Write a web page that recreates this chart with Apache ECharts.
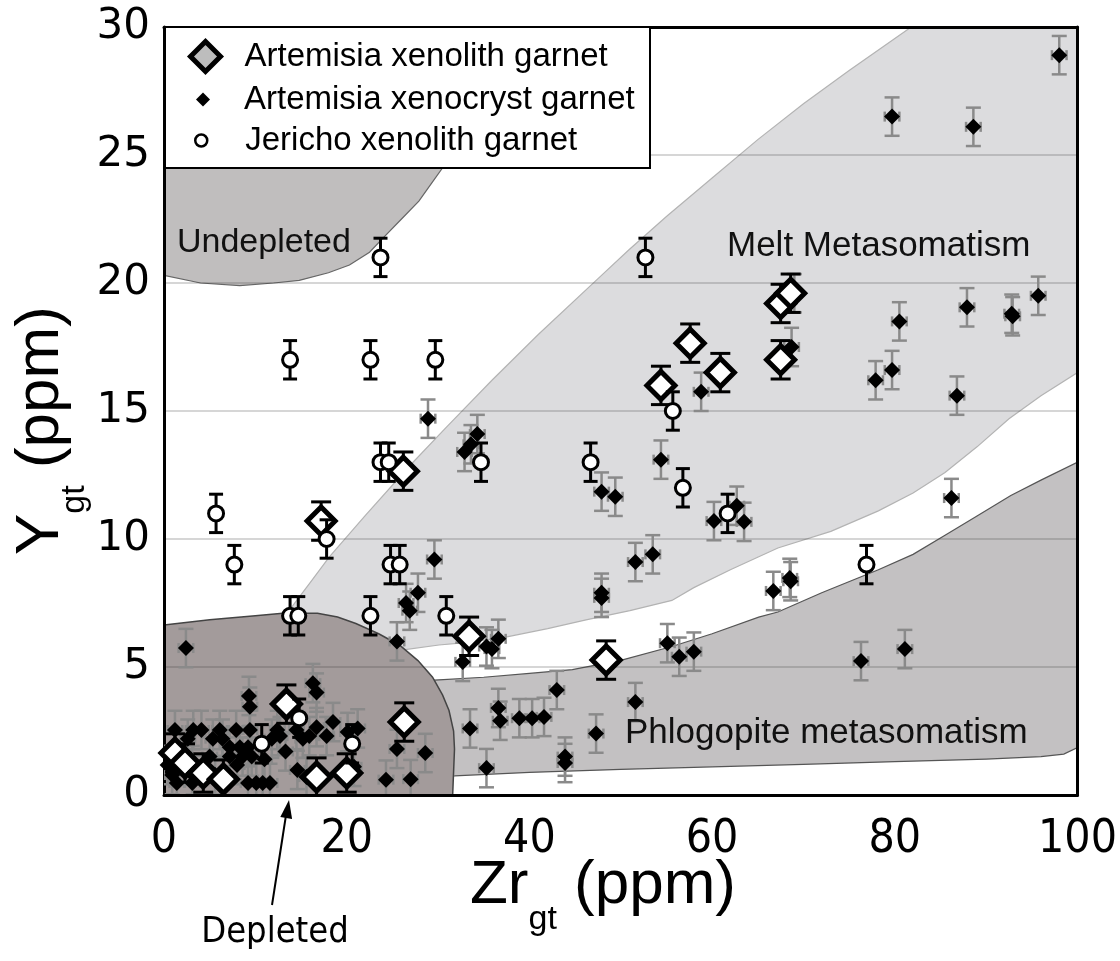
<!DOCTYPE html>
<html>
<head>
<meta charset="utf-8">
<script src="https://cdn.jsdelivr.net/npm/echarts@6/dist/echarts.min.js"></script>
<style>
  html, body { margin: 0; padding: 0; background: #fff; }
  #chart { width: 1120px; height: 961px; }
</style>
</head>
<body>
<div id="chart"></div>
<script>
// Garnet Zr vs Y (ppm) with metasomatic fields

const xTicks = [0, 20, 40, 60, 80, 100];
const yTicks = [0, 5, 10, 15, 20, 25, 30];

// Artemisia xenolith garnet: [Zr, Y]
const xenolith = [
  [1.2, 1.64], [2.3, 1.25], [4.3, 0.86], [6.5, 0.62], [13.4, 3.55], [16.7, 0.7],
  [20.0, 0.86], [26.3, 2.85], [17.2, 10.7], [26.2, 12.65], [33.4, 6.2], [48.4, 5.27],
  [54.4, 16.0], [57.6, 17.65], [60.9, 16.5], [67.5, 19.2], [68.6, 19.6], [67.5, 17.0]
];
const xenolithYErr = 0.75;

// Artemisia xenocryst garnet: [Zr, Y]
const xenocryst = [
  [0.4, 1.17], [0.9, 0.78], [1.2, 2.54], [1.4, 0.47], [2.4, 5.74], [2.6, 2.2], [3.1, 1.17],
  [3.1, 0.47], [3.2, 2.54], [3.2, 0.78], [4.1, 2.54], [5.0, 1.5], [5.35, 2.2], [5.6, 0.78],
  [6.1, 2.54], [6.4, 2.2], [7.2, 1.87], [7.2, 1.5], [7.9, 2.54], [8.0, 1.17], [8.3, 1.87],
  [8.6, 1.5], [9.2, 1.87], [9.2, 0.47], [9.3, 3.87], [9.4, 3.45], [9.4, 2.54], [9.6, 1.5],
  [10.1, 0.47], [10.8, 0.47], [11.0, 1.4], [11.6, 0.47], [11.8, 2.2], [12.4, 2.54], [12.7, 2.3],
  [13.3, 1.7], [14.5, 2.54], [14.6, 0.98], [15.2, 2.2], [15.6, 0.7], [15.9, 2.3], [16.3, 4.37],
  [16.7, 4.0], [16.7, 2.65], [17.8, 2.3], [18.5, 2.85], [20.1, 2.46], [20.8, 1.1], [21.2, 2.6],
  [24.3, 0.6], [25.5, 1.8], [27.0, 0.62], [28.6, 1.64],
  [25.5, 6.0], [26.5, 7.5], [26.9, 7.2], [27.8, 7.9], [28.9, 14.7], [29.6, 9.2], [32.7, 5.2],
  [32.9, 13.4], [33.5, 2.6], [33.6, 13.7], [34.3, 14.1], [35.3, 5.8], [35.3, 1.05], [35.9, 5.7],
  [36.6, 6.1], [36.6, 3.4], [36.8, 2.9], [38.9, 3.0], [40.3, 3.0], [41.6, 3.05], [43.0, 4.1],
  [43.9, 1.5], [43.9, 1.25], [47.3, 2.4], [47.9, 7.9], [47.9, 7.7], [47.9, 11.85], [49.4, 11.65],
  [51.6, 9.1], [51.6, 3.63], [53.5, 9.4], [54.4, 13.1], [55.1, 5.93], [56.4, 5.4], [58.0, 5.6],
  [58.8, 15.75], [60.2, 10.7], [62.7, 11.3], [63.5, 10.67], [66.7, 7.97], [68.5, 8.48],
  [68.6, 8.35], [68.7, 17.5], [69.0, 19.6],
  [76.3, 5.23], [77.9, 16.2], [79.7, 16.6], [79.7, 26.5], [80.5, 18.5], [81.1, 5.7], [86.2, 11.6],
  [86.8, 15.6], [87.9, 19.05], [88.6, 26.1], [92.8, 18.8], [92.9, 18.7], [95.7, 19.5], [98.0, 28.9]
];
const xenocrystYErr = 0.75;
const xenocrystXErr = 0.8;

// Jericho xenolith garnet: [Zr, Y]
const jericho = [
  [5.7, 11], [7.7, 9], [13.8, 17], [13.8, 7], [14.7, 7], [10.7, 2], [14.8, 3], [20.6, 2],
  [17.8, 10], [22.6, 17], [23.7, 21], [23.7, 13], [24.6, 13], [24.8, 9], [25.8, 9], [22.6, 7],
  [29.7, 17], [30.9, 7], [34.7, 13], [46.7, 13], [52.7, 21], [55.7, 15], [56.8, 12], [61.7, 11],
  [76.9, 9]
];
const jerichoYErr = 0.75;

// Field outlines: [Zr, Y] vertices
const meltField = [
  [12, 6.6], [14.1, 7.4], [16, 8.3], [18.1, 9.3], [22, 10.9], [27, 12.9], [31, 14.4],
  [35.9, 16.2], [41, 18.0], [47.6, 20.2], [50.9, 21.3], [55, 22.6], [60, 24.1], [65, 25.6],
  [70, 27.0], [75, 28.3], [81.8, 30], [100, 30], [100, 16.5], [96, 15.6], [92.5, 14.7],
  [89, 13.6], [85.5, 12.6], [82, 11.8], [78.2, 11.1], [73, 10.3], [67.2, 9.65], [62, 8.8],
  [58, 8.1], [55.6, 7.6], [51, 7.2], [46.2, 6.84], [42, 6.5], [37.4, 6.17], [33, 5.95],
  [30.1, 5.86], [26, 5.66], [20, 5.6], [14, 5.9], [12, 6.2]
];
const phlogopiteField = [
  [25, 4.4], [30.1, 4.5], [35, 4.6], [40, 4.75], [44.7, 4.9], [50.1, 5.27], [55.6, 5.8],
  [60, 6.3], [65.1, 6.95], [67.2, 7.15], [72, 7.9], [78.2, 8.8], [82, 9.4], [85.5, 10.15],
  [89, 10.9], [92.7, 11.7], [96, 12.3], [100, 13.0], [100, 1.85], [98.5, 1.6], [96, 1.5],
  [90, 1.4], [80, 1.3], [70, 1.2], [60, 1.1], [50, 1.0], [40, 0.88], [31.8, 0.75], [25, 0.7]
];
const undepletedField = [
  [0, 20.3], [4, 20.0], [8.3, 19.9], [12, 20.0], [14.8, 20.1], [18, 20.4], [20.3, 20.7],
  [22.5, 21.2], [24.1, 21.8], [26, 22.5], [27.9, 23.2], [29.3, 23.9], [30.5, 24.5],
  [32, 25.7], [33.5, 27.2], [35, 29], [35.8, 30], [0, 30]
];
const depletedField = [
  [0, 6.64], [5, 6.85], [10, 7.0], [13, 7.1], [16.8, 7.1], [19, 6.95], [21, 6.7], [23.5, 6.3],
  [25.8, 5.85], [27.8, 5.25], [29.4, 4.6], [30.5, 3.9], [31.2, 3.3], [31.7, 2.5], [31.8, 1.8],
  [31.7, 0.9], [31.6, 0], [0, 0]
];

const SANS = "'Liberation Sans', Arial, sans-serif";
const NARROW = "'Liberation Sans Narrow', 'DejaVu Sans Condensed', sans-serif";
const TICKFONT = "'DejaVu Sans', sans-serif";

const chart = echarts.init(document.getElementById('chart'), null, { renderer: 'canvas' });

function fieldSeries(name, verts, fill, stroke, lineWidth, z) {
  return {
    type: 'custom', name, z, silent: true, clip: true, animation: false,
    data: [[0, 0]],
    renderItem(params, api) {
      return {
        type: 'polygon',
        shape: { points: verts.map(v => api.coord(v)) },
        style: { fill, stroke, lineWidth }
      };
    }
  };
}

function errorBarSeries(points, yErr, xErr, color, capHalf, lineWidth, z) {
  return {
    type: 'custom', z, silent: true, clip: true, animation: false,
    data: points.map(p => [p[0], p[1], yErr, xErr]),
    encode: { x: 0, y: 1 },
    renderItem(params, api) {
      const x = api.value(0), y = api.value(1), ey = api.value(2), ex = api.value(3);
      const c = api.coord([x, y]);
      const t = api.coord([x, y + ey]);
      const b = api.coord([x, y - ey]);
      const style = { stroke: color, lineWidth };
      const children = [
        { type: 'line', shape: { x1: c[0], y1: t[1], x2: c[0], y2: b[1] }, style },
        { type: 'line', shape: { x1: c[0] - capHalf, y1: t[1], x2: c[0] + capHalf, y2: t[1] }, style },
        { type: 'line', shape: { x1: c[0] - capHalf, y1: b[1], x2: c[0] + capHalf, y2: b[1] }, style }
      ];
      if (ex) {
        const l = api.coord([x - ex, y]), r = api.coord([x + ex, y]);
        children.push(
          { type: 'line', shape: { x1: l[0], y1: c[1], x2: r[0], y2: c[1] }, style },
          { type: 'line', shape: { x1: l[0], y1: c[1] - 5, x2: l[0], y2: c[1] + 5 }, style },
          { type: 'line', shape: { x1: r[0], y1: c[1] - 5, x2: r[0], y2: c[1] + 5 }, style }
        );
      }
      return { type: 'group', children };
    }
  };
}

// text width helper for composite axis titles
const measureCtx = document.createElement('canvas').getContext('2d');
function textWidth(str, size, family) {
  measureCtx.font = size + 'px ' + family;
  return measureCtx.measureText(str).width;
}

function titleParts(parts, family) {
  // parts: [text, size, baselineShift]
  let x = 0;
  return parts.map(([str, size, shift]) => {
    const el = {
      type: 'text', x, y: shift - 0.31 * size,
      style: { text: str, fontSize: size, fontFamily: family, fill: '#000',
               align: 'left', textAlign: 'left', verticalAlign: 'middle', textVerticalAlign: 'middle' }
    };
    x += textWidth(str, size, family);
    return el;
  });
}

const axisFrame = { show: true, lineStyle: { color: '#000', width: 3 } };
const legendText = { fontSize: 33, fontFamily: SANS, color: '#000' };

const option = {
  animation: false,
  backgroundColor: '#fff',
  grid: { left: 164, right: 40, top: 27, bottom: 166, containLabel: false },
  xAxis: [
    {
      type: 'value', min: 0, max: 100, interval: 20, z: 6,
      axisLine: { ...axisFrame, onZero: false }, axisTick: { show: false },
      splitLine: { show: false },
      axisLabel: { margin: 22, fontSize: 46, fontFamily: NARROW, color: '#000',
                   formatter: v => xTicks.includes(v) ? String(v) : '' }
    },
    {
      type: 'value', position: 'top', min: 0, max: 100, interval: 20, z: 6,
      axisLine: { ...axisFrame, onZero: false }, axisTick: { show: false },
      axisLabel: { show: false }, splitLine: { show: false }
    }
  ],
  yAxis: [
    {
      type: 'value', min: 0, max: 30, interval: 5, z: 3,
      axisLine: { ...axisFrame, onZero: false }, axisTick: { show: false },
      splitLine: { show: true, lineStyle: { color: 'rgba(60,60,60,0.28)', width: 1.5 } },
      axisLabel: { margin: 14, fontSize: 42, fontFamily: TICKFONT, color: '#000',
                   formatter: v => yTicks.includes(v) ? String(v) : '' }
    },
    {
      type: 'value', position: 'right', min: 0, max: 30, interval: 5, z: 6,
      axisLine: { ...axisFrame, onZero: false }, axisTick: { show: false },
      axisLabel: { show: false }, splitLine: { show: false }
    }
  ],
  legend: [
    {
      data: [{ name: 'Artemisia xenolith garnet', icon: 'diamond',
               itemStyle: { color: '#bdbdbd', borderColor: '#000', borderWidth: 5, opacity: 1 } }],
      left: 183, top: 34, itemWidth: 30, itemHeight: 30, z: 11, selectedMode: false,
      textStyle: { ...legendText, padding: [0, 0, 0, 19] }
    },
    {
      data: [{ name: 'Artemisia xenocryst garnet', icon: 'diamond',
               itemStyle: { color: '#000', opacity: 1 } }],
      left: 191, top: 78, itemWidth: 14, itemHeight: 14, z: 11, selectedMode: false,
      textStyle: { ...legendText, padding: [0, 0, 0, 29] }
    },
    {
      data: [{ name: 'Jericho xenolith garnet', icon: 'circle',
               itemStyle: { color: '#fff', borderColor: '#000', borderWidth: 2.5, opacity: 1 } }],
      left: 189, top: 119, itemWidth: 12, itemHeight: 12, z: 11, selectedMode: false,
      textStyle: { ...legendText, padding: [0, 0, 0, 33] }
    }
  ],
  graphic: [
    { type: 'rect', z: 10, shape: { x: 165, y: 27, width: 485, height: 141 },
      style: { fill: '#fff', stroke: '#000', lineWidth: 2 } },
    { type: 'text', z: 8, x: 177, y: 243,
      style: { text: 'Undepleted', fontSize: 34, fontFamily: SANS, fill: '#111',
               align: 'left', textAlign: 'left', verticalAlign: 'middle', textVerticalAlign: 'middle' } },
    { type: 'text', z: 8, x: 727, y: 246,
      style: { text: 'Melt Metasomatism', fontSize: 35, fontFamily: SANS, fill: '#111',
               align: 'left', textAlign: 'left', verticalAlign: 'middle', textVerticalAlign: 'middle' } },
    { type: 'text', z: 8, x: 625, y: 733,
      style: { text: 'Phlogopite metasomatism', fontSize: 35, fontFamily: SANS, fill: '#111',
               align: 'left', textAlign: 'left', verticalAlign: 'middle', textVerticalAlign: 'middle' } },
    { type: 'text', z: 8, x: 275, y: 933,
      style: { text: 'Depleted', fontSize: 36, fontFamily: NARROW, fill: '#000',
               align: 'center', textAlign: 'center', verticalAlign: 'middle', textVerticalAlign: 'middle' } },
    { type: 'line', z: 8, shape: { x1: 272, y1: 905, x2: 286.5, y2: 812 },
      style: { stroke: '#000', lineWidth: 2 } },
    { type: 'polygon', z: 8, shape: { points: [[289, 800], [292.1, 819], [280.3, 817]] },
      style: { fill: '#000' } },
    { type: 'group', x: 470, y: 905, children: titleParts([
        ['Zr', 62, 0], ['gt', 34, 25], [' (ppm)', 62, 0]
      ], SANS) },
    { type: 'group', x: 60, y: 555, rotation: Math.PI / 2, children: titleParts([
        ['Y', 62, 0], ['gt', 34, 25], [' (ppm)', 62, 0]
      ], SANS) }
  ],
  series: [
    fieldSeries('Melt Metasomatism', meltField, '#dcdcde', '#b3b3b3', 1.2, 1),
    fieldSeries('Phlogopite metasomatism', phlogopiteField, '#c3c1c2', '#555', 1.2, 1),
    fieldSeries('Undepleted', undepletedField, '#c0bebe', '#666', 1.2, 1),
    fieldSeries('Depleted', depletedField, '#a39b9b', '#444', 1.5, 1),

    errorBarSeries(xenocryst, xenocrystYErr, xenocrystXErr, '#8a8a8a', 7.5, 2.5, 4),
    {
      name: 'Artemisia xenocryst garnet', type: 'scatter', z: 5, data: xenocryst,
      symbol: 'diamond', symbolSize: 16, itemStyle: { color: '#000', opacity: 1 }, silent: true
    },
    errorBarSeries(xenolith, xenolithYErr, 0, '#000', 10, 3, 6),
    {
      name: 'Artemisia xenolith garnet', type: 'scatter', z: 7, data: xenolith,
      symbol: 'diamond', symbolSize: 28,
      itemStyle: { color: '#fff', borderColor: '#000', borderWidth: 5, opacity: 1 }, silent: true
    },
    errorBarSeries(jericho, jerichoYErr, 0, '#000', 7, 3, 8),
    {
      name: 'Jericho xenolith garnet', type: 'scatter', z: 9, data: jericho,
      symbol: 'circle', symbolSize: 15,
      itemStyle: { color: '#fff', borderColor: '#000', borderWidth: 3, opacity: 1 }, silent: true
    }
  ]
};

chart.setOption(option);
</script>
</body>
</html>
